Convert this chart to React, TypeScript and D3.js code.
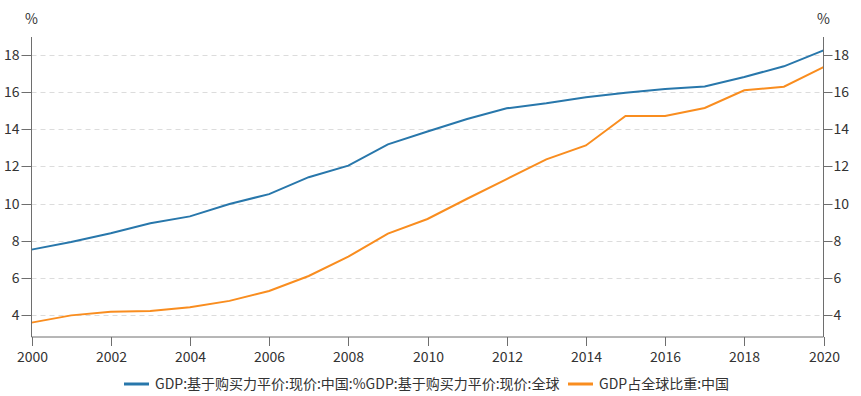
import React from "react";
import * as d3 from "d3";

const years = [2000, 2001, 2002, 2003, 2004, 2005, 2006, 2007, 2008, 2009, 2010, 2011, 2012, 2013, 2014, 2015, 2016, 2017, 2018, 2019, 2020];
const pppShare = [7.52, 7.93, 8.4, 8.94, 9.31, 9.98, 10.51, 11.42, 12.04, 13.19, 13.88, 14.55, 15.13, 15.4, 15.72, 15.97, 16.17, 16.31, 16.82, 17.39, 18.25];
const gdpShare = [3.59, 3.98, 4.18, 4.21, 4.42, 4.76, 5.29, 6.1, 7.14, 8.38, 9.17, 10.26, 11.32, 12.38, 13.13, 14.72, 14.72, 15.15, 16.1, 16.29, 17.35];
const yTicks = [4, 6, 8, 10, 12, 14, 16, 18];
const xTicks = [2000, 2002, 2004, 2006, 2008, 2010, 2012, 2014, 2016, 2018, 2020];
const seriesNames = ["GDP:基于购买力平价:现价:中国:%GDP:基于购买力平价:现价:全球", "GDP占全球比重:中国"];
const colors = ["#2877ab", "#f98d1f"];

export default function App() {
  const W = 861, H = 396;
  const left = 31.5, right = 823.5, top = 37, bottom = 337;
  const x = d3.scaleLinear().domain([2000, 2020]).range([left, right]);
  const y = d3.scaleLinear().domain([4, 18]).range([315, 55]);
  const line = d3.line<number>().x((_, i) => x(years[i])).y((d) => y(d));
  const font = "'Noto Sans CJK SC', 'Noto Sans', sans-serif";
  const axisColor = "#6e6e6e";
  const textColor = "#333";
  const fs = 14;
  return (
    <svg width={W} height={H} style={{ position: "absolute", left: 0, top: 0, fontFamily: font }}>
      {yTicks.map((t) => (
        <line key={"g" + t} x1={left} x2={right} y1={Math.round(y(t)) + 0.5} y2={Math.round(y(t)) + 0.5} stroke="#dcdcdc" strokeDasharray="5,4" />
      ))}
      {[gdpShare, pppShare].map((s, k) => (
        <path key={k} d={line(s) || ""} fill="none" stroke={k === 0 ? colors[1] : colors[0]} strokeWidth={2} />
      ))}
      <line x1={left} x2={left} y1={top} y2={bottom} stroke={axisColor} />
      <line x1={right} x2={right} y1={top} y2={bottom} stroke={axisColor} />
      <line x1={left} x2={right} y1={bottom} y2={bottom} stroke={axisColor} />
      {yTicks.map((t) => {
        const yy = Math.round(y(t)) + 0.5;
        return (
          <g key={"y" + t}>
            <line x1={left - 10} x2={left} y1={yy} y2={yy} stroke={axisColor} />
            <text x={left - 12} y={yy} dy="0.35em" textAnchor="end" fontSize={fs} fill={textColor}>{t}</text>
            <line x1={right} x2={right + 9} y1={yy} y2={yy} stroke={axisColor} />
            <text x={right + 10} y={yy} dy="0.35em" textAnchor="start" fontSize={fs} fill={textColor}>{t}</text>
          </g>
        );
      })}
      {xTicks.map((t) => {
        const xx = Math.round(x(t)) + 0.5;
        return (
          <g key={"x" + t}>
            <line x1={xx} x2={xx} y1={bottom} y2={bottom + 9} stroke={axisColor} />
            <text x={xx} y={357} dy="0.35em" textAnchor="middle" fontSize={fs} fill={textColor}>{t}</text>
          </g>
        );
      })}
      <text x={left} y={19} dy="0.35em" textAnchor="middle" fontSize={fs} fill={textColor}>%</text>
      <text x={right} y={19} dy="0.35em" textAnchor="middle" fontSize={fs} fill={textColor}>%</text>
      <line x1={124} x2={149} y1={384} y2={384} stroke={colors[0]} strokeWidth={3} />
      <text x={155} y={384} dy="0.35em" fontSize={fs} fill={textColor}>{seriesNames[0]}</text>
      <line x1={568} x2={593} y1={384} y2={384} stroke={colors[1]} strokeWidth={3} />
      <text x={599} y={384} dy="0.35em" fontSize={fs} fill={textColor}>{seriesNames[1]}</text>
    </svg>
  );
}
